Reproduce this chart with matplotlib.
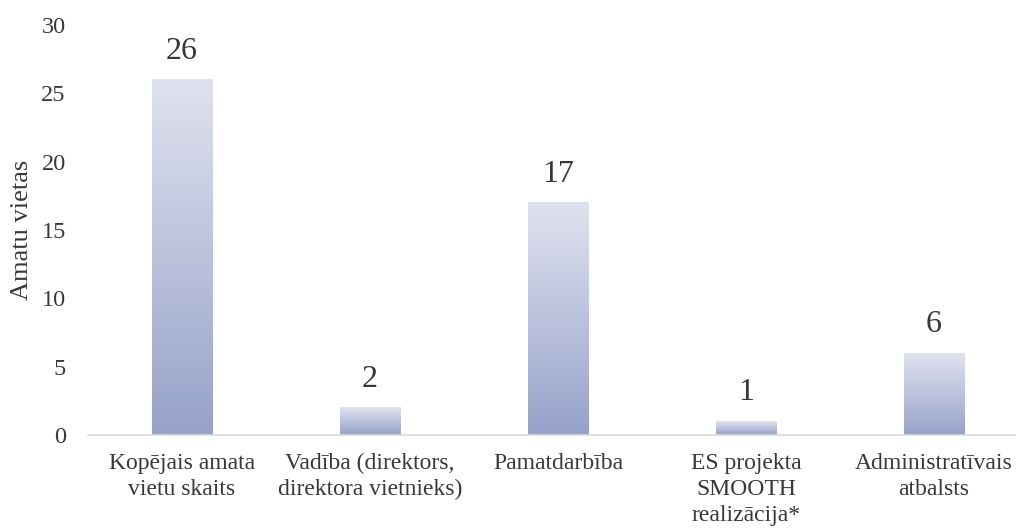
import numpy as np
import matplotlib.pyplot as plt
from matplotlib.colors import LinearSegmentedColormap

categories = [
    "Kopējais amata\nvietu skaits",
    "Vadība (direktors,\ndirektora vietnieks)",
    "Pamatdarbība",
    "ES projekta\nSMOOTH\nrealizācija*",
    "Administratīvais\natbalsts",
]
values = [26, 2, 17, 1, 6]
yticks = [0, 5, 10, 15, 20, 25, 30]

plt.rcParams['font.family'] = ['Liberation Serif', 'DejaVu Serif']
text_color = '#383838'

fig = plt.figure(figsize=(10.16, 5.28), dpi=100)
ax = fig.add_axes([88 / 1016, 1 - 435 / 528, 940 / 1016, 410 / 528])

x = np.arange(len(values))
bars = ax.bar(x, values, width=0.32, color='none', edgecolor='none', zorder=2)

# vertical gradient, dark at bottom, light at top
cmap = LinearSegmentedColormap.from_list('grad', ['#96a2ca', '#dfe2ee'])
grad = np.linspace(0, 1, 256).reshape(-1, 1)
for b in bars:
    x0, y0 = b.get_x(), b.get_y()
    w, h = b.get_width(), b.get_height()
    ax.imshow(grad, cmap=cmap, origin='lower', aspect='auto',
              extent=[x0, x0 + w, y0, y0 + h], zorder=2)

for xi, v in zip(x, values):
    ax.annotate(str(v), (xi, v), xytext=(0, 10), textcoords='offset points',
                ha='center', va='bottom', fontsize=23, color=text_color)

ax.set_xlim(-0.5, len(values) - 0.5)
ax.set_ylim(0, 30)
ax.set_yticks(yticks)
ax.set_xticks(x)
ax.set_xticklabels(categories, fontsize=17, color=text_color, linespacing=1.3)
ax.tick_params(axis='y', length=0, pad=16, labelsize=17.5, labelcolor=text_color)
ax.tick_params(axis='x', length=0, pad=13)
ax.set_ylabel('Amatu vietas', fontsize=19, color=text_color, labelpad=6)

for s in ['top', 'right', 'left']:
    ax.spines[s].set_visible(False)
ax.spines['bottom'].set_color('#d9d9d9')
ax.spines['bottom'].set_linewidth(1.2)

fig.savefig('out.png', dpi=100)
